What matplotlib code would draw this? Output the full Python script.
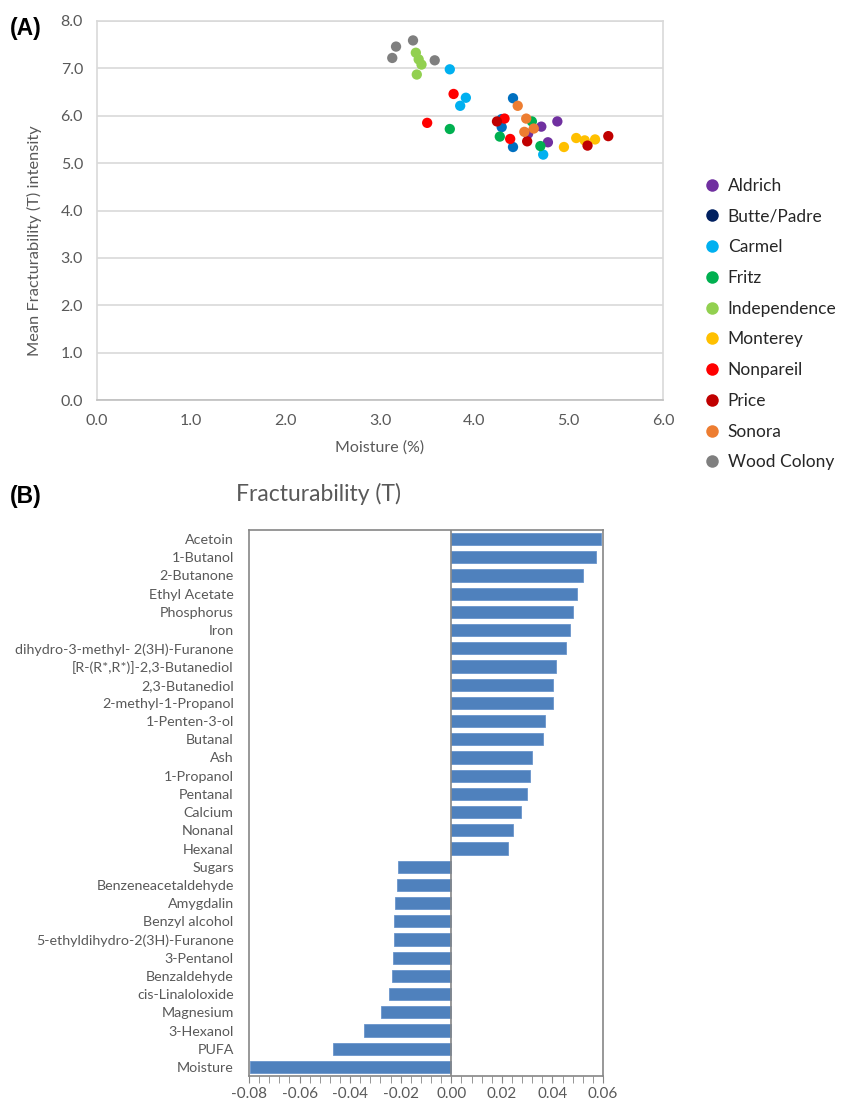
import numpy as np
import matplotlib
matplotlib.use("Agg")
import matplotlib.pyplot as plt
from matplotlib.lines import Line2D
from matplotlib.ticker import MultipleLocator, FormatStrFormatter

plt.rcParams['font.family'] = ['Lato', 'DejaVu Sans']

# --- panel A data: moisture (%) vs mean fracturability, 4 samples per variety
varieties = ['Aldrich', 'Butte/Padre', 'Carmel', 'Fritz', 'Independence',
             'Monterey', 'Nonpareil', 'Price', 'Sonora', 'Wood Colony']
moisture = {
    'Aldrich':      [4.88, 4.71, 4.78, 4.57],
    'Butte/Padre':  [4.41, 4.29, 4.41, 4.29],
    'Carmel':       [3.74, 3.91, 3.85, 4.73],
    'Fritz':        [3.74, 4.27, 4.61, 4.70],
    'Independence': [3.38, 3.41, 3.44, 3.39],
    'Monterey':     [4.95, 5.08, 5.17, 5.28],
    'Nonpareil':    [3.78, 3.50, 4.32, 4.38],
    'Price':        [4.24, 4.56, 5.20, 5.42],
    'Sonora':       [4.46, 4.55, 4.53, 4.63],
    'Wood Colony':  [3.13, 3.17, 3.35, 3.58],
}
fracturability = {
    'Aldrich':      [5.88, 5.77, 5.44, 5.62],
    'Butte/Padre':  [6.37, 5.76, 5.34, 5.93],
    'Carmel':       [6.98, 6.38, 6.21, 5.18],
    'Fritz':        [5.72, 5.56, 5.88, 5.36],
    'Independence': [7.33, 7.19, 7.08, 6.87],
    'Monterey':     [5.34, 5.53, 5.48, 5.50],
    'Nonpareil':    [6.46, 5.85, 5.94, 5.51],
    'Price':        [5.88, 5.46, 5.37, 5.57],
    'Sonora':       [6.21, 5.94, 5.66, 5.73],
    'Wood Colony':  [7.22, 7.46, 7.59, 7.17],
}
point_colors = ['#7030A0', '#0070C0', '#00B0F0', '#00B050', '#92D050',
                '#FFC000', '#FF0000', '#C00000', '#ED7D31', '#7F7F7F']
legend_colors = ['#7030A0', '#002060', '#00B0F0', '#00B050', '#92D050',
                 '#FFC000', '#FF0000', '#C00000', '#ED7D31', '#7F7F7F']

# --- panel B data: correlation with fracturability
compounds = ['Acetoin', '1-Butanol', '2-Butanone', 'Ethyl Acetate', 'Phosphorus',
             'Iron', 'dihydro-3-methyl- 2(3H)-Furanone', '[R-(R*,R*)]-2,3-Butanediol',
             '2,3-Butanediol', '2-methyl-1-Propanol', '1-Penten-3-ol', 'Butanal',
             'Ash', '1-Propanol', 'Pentanal', 'Calcium', 'Nonanal', 'Hexanal',
             'Sugars', 'Benzeneacetaldehyde', 'Amygdalin', 'Benzyl alcohol',
             '5-ethyldihydro-2(3H)-Furanone', '3-Pentanol', 'Benzaldehyde',
             'cis-Linaloloxide', 'Magnesium', '3-Hexanol', 'PUFA', 'Moisture']
coef = [0.0594, 0.0574, 0.0522, 0.0496, 0.0482,
        0.0471, 0.0455, 0.0413,
        0.0404, 0.0402, 0.0371, 0.0362,
        0.0320, 0.0313, 0.0301, 0.0274, 0.0246, 0.0225,
        -0.0212, -0.0214, -0.0223, -0.0225,
        -0.0226, -0.0231, -0.0234,
        -0.0245, -0.0279, -0.0346, -0.0466, -0.0795]

grey = '#595959'
W, H = 846, 1104
fig = plt.figure(figsize=(W / 100, H / 100), dpi=100)

def box(l, t, r, b):
    return [l / W, 1 - b / H, (r - l) / W, (b - t) / H]

# ---------------- panel A
ax1 = fig.add_axes(box(97, 21, 663, 400))
for v, c in zip(varieties, point_colors):
    ax1.scatter(moisture[v], fracturability[v], s=55, color=c, edgecolors='none', zorder=3)
ax1.set_xlim(0, 6)
ax1.set_ylim(0, 8)
ax1.xaxis.set_major_locator(MultipleLocator(1))
ax1.yaxis.set_major_locator(MultipleLocator(1))
ax1.xaxis.set_major_formatter(FormatStrFormatter('%.1f'))
ax1.yaxis.set_major_formatter(FormatStrFormatter('%.1f'))
ax1.grid(axis='y', color='#D9D9D9', lw=1.2)
ax1.set_axisbelow(True)
for s in ax1.spines.values():
    s.set_color('#D9D9D9')
    s.set_linewidth(1.2)
ax1.spines['bottom'].set_color('#BFBFBF')
ax1.tick_params(length=0, labelsize=11.5, labelcolor=grey, pad=10)
ax1.set_xlabel('Moisture (%)', fontsize=11.5, color=grey, labelpad=9)
ax1.set_ylabel('Mean Fracturability (T) intensity', fontsize=11.8, color=grey)
ax1.yaxis.set_label_coords(-0.097, 0.42)

handles = [Line2D([], [], ls='none', marker='o', ms=9, mfc=c, mec='none')
           for c in legend_colors]
fig.legend(handles, varieties, loc='upper left', bbox_to_anchor=(686 / W, 1 - 162 / H),
           frameon=False, fontsize=12.5, labelspacing=0.85, handletextpad=0.3,
           handlelength=1.2, labelcolor='#262626')

fig.text(10 / W, 1 - 28 / H, '(A)', fontsize=16.5, fontweight='bold',
         family='Liberation Sans', va='center')

# ---------------- panel B
ax2 = fig.add_axes(box(249, 530, 603, 1076))
ypos = np.arange(len(compounds))
ax2.barh(ypos, coef, height=0.66, color='#4F81BD', edgecolor='#6A95CC', lw=0.6, zorder=3)
ax2.set_xlim(-0.08, 0.06)
ax2.set_ylim(len(compounds) - 0.5, -0.5)
ax2.set_yticks(ypos)
ax2.set_yticklabels(compounds)
ax2.axvline(0, color='#868686', lw=1.2, zorder=4)
ax2.xaxis.set_major_locator(MultipleLocator(0.02))
ax2.xaxis.set_minor_locator(MultipleLocator(0.004))
ax2.xaxis.set_major_formatter(FormatStrFormatter('%.2f'))
for s in ax2.spines.values():
    s.set_color('#868686')
    s.set_linewidth(1.2)
ax2.tick_params(axis='y', length=0, labelsize=10.3, labelcolor=grey, pad=11)
ax2.tick_params(axis='x', which='both', length=5, color='#868686', labelsize=11,
                labelcolor=grey, pad=3)

fig.text(318 / W, 1 - 494 / H, 'Fracturability (T)', fontsize=16.5, color=grey,
         ha='center', va='center')
fig.text(10 / W, 1 - 497 / H, '(B)', fontsize=16.5, fontweight='bold',
         family='Liberation Sans', va='center')

fig.savefig('out.png', dpi=100)
